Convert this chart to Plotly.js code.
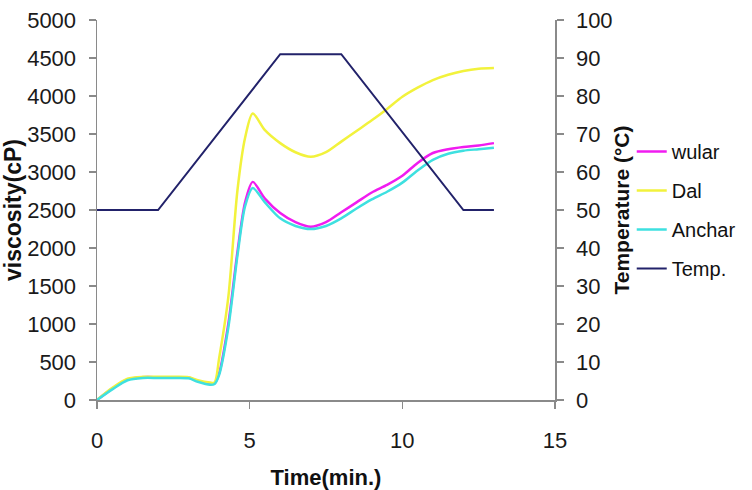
<!DOCTYPE html>
<html>
<head>
<meta charset="utf-8">
<script src="https://cdn.plot.ly/plotly-3.0.1.min.js"></script>
<style>html,body{margin:0;padding:0;background:#fff;}#chart{width:752px;height:490px;}</style>
</head>
<body>
<div id="chart"></div>
<script>
var time = [0, 0.5, 1, 1.5, 2, 2.5, 3, 3.3, 3.7, 3.85, 4, 4.3, 4.6, 4.85, 5.1, 5.5, 6, 6.5, 7, 7.5, 8, 8.5, 9, 9.5, 10, 10.5, 11, 11.5, 12, 12.5, 13];
var wular = [0, 150, 270, 300, 300, 300, 295, 250, 210, 220, 350, 1000, 1950, 2600, 2870, 2650, 2460, 2340, 2280, 2340, 2470, 2600, 2730, 2830, 2950, 3120, 3250, 3300, 3330, 3350, 3380];
var dal = [0, 160, 280, 305, 305, 305, 300, 260, 230, 230, 550, 1350, 2760, 3450, 3770, 3550, 3380, 3260, 3200, 3260, 3400, 3540, 3680, 3830, 3990, 4110, 4210, 4280, 4330, 4360, 4370];
var anchar = [0, 140, 260, 290, 290, 290, 285, 240, 200, 210, 330, 950, 1900, 2550, 2790, 2600, 2390, 2290, 2250, 2290, 2390, 2520, 2640, 2740, 2860, 3020, 3160, 3240, 3280, 3300, 3320];
var tempTime = [0, 2, 6, 8, 12, 13];
var temp = [50, 50, 91, 91, 50, 50];
var names = ['wular', 'Dal', 'Anchar', 'Temp.'];

var font = 'Liberation Sans, Arial, sans-serif';
function vtrace(y, name, color, grp) {
  return {x: time, y: y, name: name, type: 'scatter', mode: 'lines',
    line: {color: color, width: 2.5, shape: 'spline', smoothing: 0.8},
    legendgroup: grp};
}
var data = [
  vtrace(wular, names[0], '#f01cf0', 'a'),
  vtrace(dal, names[1], '#f2f23c', 'b'),
  vtrace(anchar, names[2], '#3ee0e0', 'c'),
  {x: tempTime, y: temp, name: names[3], type: 'scatter', mode: 'lines', yaxis: 'y2',
   line: {color: '#22226a', width: 2}, legendgroup: 'd'}
];
var axisCommon = {showgrid: false, zeroline: false, showline: true, linecolor: '#8a8a8a', linewidth: 1.5,
  ticks: 'outside', ticklen: 7, tickcolor: '#8a8a8a', tickwidth: 1.5,
  tickfont: {family: font, size: 22, color: '#1a1a1a'}};
var layout = {
  width: 752, height: 490,
  margin: {l: 97, r: 196, t: 20, b: 90, pad: 0},
  paper_bgcolor: '#fff', plot_bgcolor: '#fff',
  showlegend: true,
  xaxis: Object.assign({}, axisCommon, {range: [0, 15], dtick: 5, tick0: 0, ticklabelstandoff: 13,
    title: {text: 'Time(min.)', font: {family: font, size: 22, color: '#111', weight: 'bold'}, standoff: 18}}),
  yaxis: Object.assign({}, axisCommon, {range: [0, 5000], dtick: 500, tick0: 0, ticklabelstandoff: 8,
    title: {text: 'viscosity(cP)', font: {family: font, size: 23, color: '#111', weight: 'bold'}, standoff: 7}}),
  yaxis2: Object.assign({}, axisCommon, {range: [0, 100], dtick: 10, tick0: 0, overlaying: 'y', side: 'right', ticklabelstandoff: 8,
    title: {text: 'Temperature (°C)', font: {family: font, size: 21, color: '#111', weight: 'bold'}, standoff: 2}}),
  legend: {x: 1.165, xanchor: 'left', y: 0.5, yanchor: 'middle', traceorder: 'grouped', tracegroupgap: 10,
    font: {family: font, size: 20, color: '#111'}, bgcolor: 'rgba(0,0,0,0)'}
};
Plotly.newPlot('chart', data, layout, {displayModeBar: false, staticPlot: true});
</script>
</body>
</html>
